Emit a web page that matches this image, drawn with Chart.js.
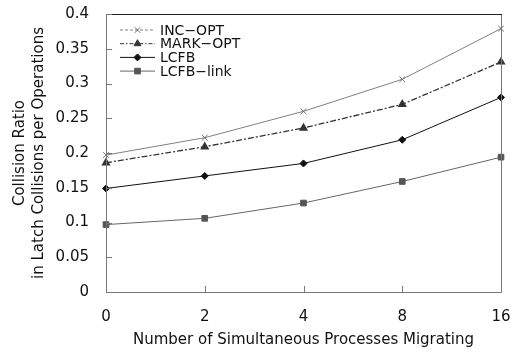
<!DOCTYPE html>
<html>
<head>
<meta charset="utf-8">
<script src="https://cdn.jsdelivr.net/npm/chart.js@4"></script>
<style>
  html, body { margin: 0; padding: 0; background: #fff; }
  #chartRoot { width: 514px; height: 352px; }
</style>
</head>
<body>
<div id="chartRoot"><canvas id="myChart" width="514" height="352"></canvas></div>
<script>
// data
const categories = ["0", "2", "4", "8", "16"];
const incOpt = [0.197, 0.222, 0.260, 0.306, 0.379];
const markOpt = [0.186, 0.209, 0.236, 0.270, 0.331];
const lcfb = [0.149, 0.167, 0.185, 0.219, 0.280];
const lcfbLink = [0.097, 0.106, 0.128, 0.159, 0.194];
const yTickLabels = ["0", "0.05", "0.1", "0.15", "0.2", "0.25", "0.3", "0.35", "0.4"];

const FONT = "'DejaVu Sans', sans-serif";

// box round the plot + inward tick marks
const frame = {
  id: 'frame',
  afterDatasetsDraw(chart) {
    const ctx = chart.ctx, a = chart.chartArea;
    const x = chart.scales.x, y = chart.scales.y;
    ctx.save();
    ctx.lineWidth = 1;
    ctx.strokeStyle = '#777';
    ctx.beginPath();
    ctx.moveTo(a.left + 0.5, a.top);
    ctx.lineTo(a.left + 0.5, a.bottom + 0.5);
    ctx.lineTo(a.right + 0.5, a.bottom + 0.5);
    ctx.lineTo(a.right + 0.5, a.top);
    ctx.stroke();
    ctx.strokeStyle = '#222';
    ctx.beginPath();
    ctx.moveTo(a.left, a.top + 0.5);
    ctx.lineTo(a.right + 1, a.top + 0.5);
    ctx.stroke();
    ctx.strokeStyle = '#777';
    ctx.beginPath();
    y.ticks.forEach(t => {
      const py = Math.round(y.getPixelForValue(t.value)) + 0.5;
      ctx.moveTo(a.left, py);
      ctx.lineTo(a.left + 6, py);
    });
    x.ticks.forEach((t, i) => {
      const px = Math.round(x.getPixelForTick(i)) + 0.5;
      ctx.moveTo(px, a.bottom);
      ctx.lineTo(px, a.bottom - 6);
    });
    ctx.stroke();
    ctx.restore();
  }
};

// legend: short line with the marker in the middle
const lineLegend = {
  id: 'lineLegend',
  afterDraw(chart) {
    const ctx = chart.ctx, a = chart.chartArea;
    ctx.save();
    ctx.font = '14px ' + FONT;
    ctx.textBaseline = 'middle';
    chart.data.datasets.forEach((ds, i) => {
      const ly = a.top + 16 + i * 13.7;
      const x0 = a.left + 14, x1 = a.left + 49;
      ctx.strokeStyle = ds.borderColor;
      ctx.lineWidth = 1;
      ctx.setLineDash(ds.legendDash || []);
      ctx.beginPath();
      ctx.moveTo(x0, ly);
      ctx.lineTo(x1, ly);
      ctx.stroke();
      ctx.setLineDash([]);
      ctx.fillStyle = ds.pointBackgroundColor;
      ctx.strokeStyle = ds.pointBorderColor;
      ctx.lineWidth = ds.pointBorderWidth || 1;
      Chart.helpers.drawPoint(ctx, {
        pointStyle: ds.pointStyle,
        radius: ds.pointRadius,
        rotation: 0,
        borderWidth: ds.pointBorderWidth || 1
      }, (x0 + x1) / 2, ly);
      ctx.fillStyle = '#111';
      ctx.fillText(ds.label, x1 + 5, ly + 1);
    });
    ctx.restore();
  }
};

new Chart(document.getElementById('myChart'), {
  type: 'line',
  data: {
    labels: categories,
    datasets: [
      {
        label: 'INC\u2212OPT',
        data: incOpt,
        borderColor: '#808080',
        borderWidth: 1,
        pointStyle: 'crossRot',
        pointRadius: 4,
        pointBorderColor: '#707070',
        pointBackgroundColor: '#707070',
        pointBorderWidth: 1,
        legendDash: [3, 2]
      },
      {
        label: 'MARK\u2212OPT',
        data: markOpt,
        borderColor: '#333',
        borderWidth: 1.3,
        borderDash: [6, 2, 2, 2],
        pointStyle: 'triangle',
        pointRadius: 4,
        pointBorderColor: '#333',
        pointBackgroundColor: '#333',
        legendDash: [4, 2, 1.5, 2]
      },
      {
        label: 'LCFB',
        data: lcfb,
        borderColor: '#111',
        borderWidth: 1,
        pointStyle: 'rectRot',
        pointRadius: 3.5,
        pointBorderColor: '#111',
        pointBackgroundColor: '#111'
      },
      {
        label: 'LCFB\u2212link',
        data: lcfbLink,
        borderColor: '#666',
        borderWidth: 1,
        pointStyle: 'rect',
        pointRadius: 4,
        pointBorderColor: '#555',
        pointBackgroundColor: '#555'
      }
    ]
  },
  options: {
    responsive: false,
    animation: false,
    events: [],
    layout: { padding: { top: 14, right: 13, left: 0, bottom: 0 } },
    plugins: {
      legend: { display: false },
      tooltip: { enabled: false }
    },
    scales: {
      x: {
        offset: false,
        grid: { display: false },
        border: { display: false },
        ticks: { color: '#111', font: { family: FONT, size: 15 }, padding: 8, maxRotation: 0 },
        title: {
          display: true,
          text: 'Number of Simultaneous Processes Migrating',
          color: '#111',
          font: { family: FONT, size: 15 },
          padding: { top: 2, bottom: 3 }
        },
        afterFit(s) {
          s.height = 60;
          s.paddingLeft = 0;
          s.paddingRight = 0;
        }
      },
      y: {
        min: 0,
        max: 0.4,
        grid: { display: false },
        border: { display: false },
        ticks: {
          stepSize: 0.05,
          color: '#111',
          font: { family: FONT, size: 15 },
          padding: 9,
          callback: (v, i) => yTickLabels[i]
        },
        title: {
          display: true,
          text: ['Collision Ratio', 'in Latch Collisions per Operations'],
          color: '#111',
          font: { family: FONT, size: 15, lineHeight: 1.3 },
          padding: { top: 10, bottom: 0 }
        },
        afterFit(s) {
          s.width = 106;
          s.paddingTop = 0;
          s.paddingBottom = 0;
        }
      }
    }
  },
  plugins: [frame, lineLegend]
});
</script>
</body>
</html>
